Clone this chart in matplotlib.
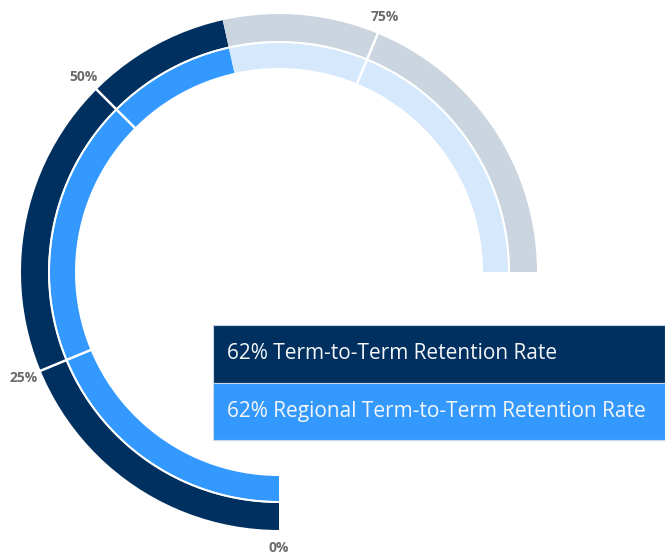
import numpy as np
import matplotlib
matplotlib.use("Agg")
import matplotlib.pyplot as plt
from matplotlib.patches import Rectangle

# chart data
series_labels = ["Term-to-Term Retention Rate", "Regional Term-to-Term Retention Rate"]
series_values = [62, 62]
tick_values = [0, 25, 50, 75]
tick_labels = ["0%", "25%", "50%", "75%"]
scale_max = 100

NAVY = "#00305f"
BLUE = "#3399ff"
GREY = "#cbd5df"
PALE = "#d5e8fc"
fill_colors = [NAVY, BLUE]
rest_colors = [GREY, PALE]
# (bottom radius, thickness) in px-like radial units
rings = [(231, 27), (204, 25)]

SWEEP = 1.5 * np.pi  # 270 degree gauge


def to_theta(v):
    return v / scale_max * SWEEP


plt.rcParams["font.family"] = ["Open Sans", "DejaVu Sans"]

W, H = 665, 555
fig = plt.figure(figsize=(W / 100, H / 100), dpi=100)

cx, cy = 279, 272  # gauge centre, px from top-left
R = 290
ax = fig.add_axes([(cx - R) / W, (H - cy - R) / H, 2 * R / W, 2 * R / H],
                  projection="polar")
ax.set_theta_zero_location("S")
ax.set_theta_direction(-1)
ax.set_rlim(0, R)
ax.axis("off")

for (r0, dr), val, c_on, c_off in zip(rings, series_values, fill_colors, rest_colors):
    t_val = to_theta(val)
    t_end = to_theta(scale_max)
    ax.bar(t_val / 2, dr, width=t_val, bottom=r0, color=c_on, align="center",
           edgecolor="none")
    ax.bar((t_val + t_end) / 2, dr, width=t_end - t_val, bottom=r0, color=c_off,
           align="center", edgecolor="none")

# white separators at the tick marks
r_lo = rings[-1][0]
r_hi = rings[0][0] + rings[0][1]
for v in tick_values[1:]:
    t = to_theta(v)
    ax.plot([t, t], [r_lo - 1, r_hi + 1], color="white", lw=1.8, solid_capstyle="butt")

# thin gap between the two rings
th = np.linspace(0, SWEEP, 400)
ax.plot(th, np.full_like(th, rings[0][0] - 1), color="white", lw=1.2)

for v, lab in zip(tick_values, tick_labels):
    ax.text(to_theta(v), 276, lab, ha="center", va="center", fontsize=10,
            fontweight="bold", color="#6b6b6b")

# legend panel
lax = fig.add_axes([0, 0, 1, 1])
lax.set_xlim(0, W)
lax.set_ylim(H, 0)
lax.axis("off")
box_x, box_y, box_h = 213, 325, 57.5
for i, (lab, val, col) in enumerate(zip(series_labels, series_values, fill_colors)):
    y0 = box_y + i * box_h
    lax.add_patch(Rectangle((box_x, y0), W - box_x, box_h, facecolor=col,
                            edgecolor="#c9d7e6", lw=0.8))
    lax.text(box_x + 14, y0 + box_h / 2, f"{val}% {lab}", color="#f4f6f8",
             fontsize=15, va="center", ha="left")

fig.savefig("out.png", dpi=100)
